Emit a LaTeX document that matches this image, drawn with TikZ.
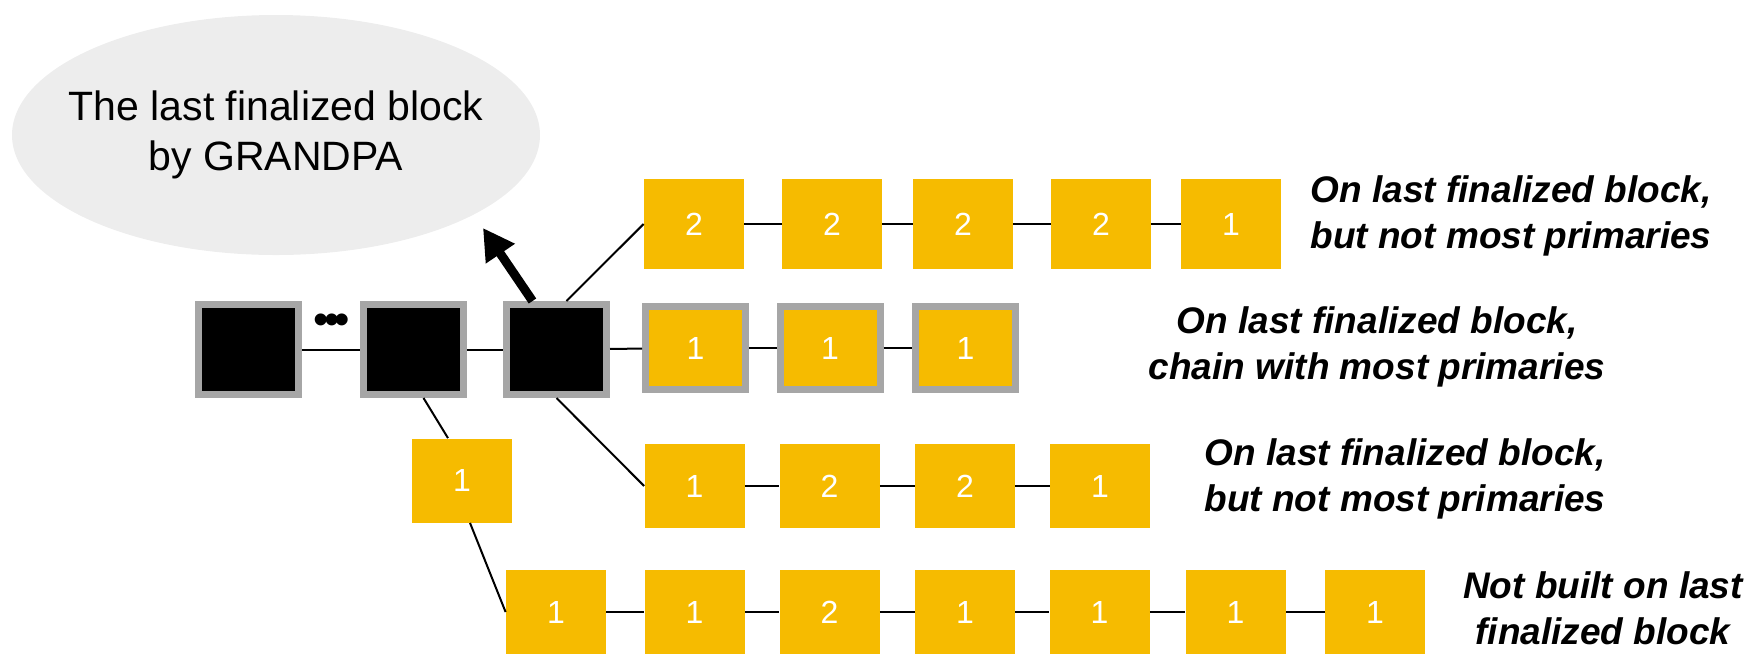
\documentclass[tikz,border=0pt]{standalone}
\usepackage{fontspec}
\setmainfont{Liberation Sans}
\usetikzlibrary{arrows.meta,shapes.geometric}

\definecolor{giallo}{RGB}{246,187,0}
\definecolor{grigio}{RGB}{166,166,166}
\definecolor{nuvola}{RGB}{237,237,237}

\tikzset{
    blocco/.style={fill=giallo, text=white, minimum width=50pt, minimum height=42pt,
        inner sep=0pt, font=\fontsize{16pt}{18pt}\selectfont},
    blocco alto/.style={blocco, minimum height=45pt},
    scelto/.style={blocco, draw=grigio, line width=3.5pt, minimum height=41.5pt},
    finale/.style={fill=black, draw=grigio, line width=3.5pt, minimum width=50pt,
        minimum height=45pt, inner sep=0pt},
    nota/.style={font=\fontsize{18.5pt}{23pt}\selectfont\bfseries\itshape,
        align=center, inner sep=0pt},
    legame/.style={line width=1pt},
}

\begin{document}
\begin{tikzpicture}[x=0.5pt, y=-0.5pt]
    \useasboundingbox (0,0) rectangle (1757,655);

    % Nuvola con il testo
    \node[ellipse, fill=nuvola, minimum width=264pt, minimum height=120pt,
        inner xsep=-12pt, inner ysep=0pt, align=center,
        font=\fontsize{20.5pt}{25pt}\selectfont] (nuvola) at (276,135)
        {The last finalized block\\by GRANDPA};

    % Blocchi finalizzati
    \foreach \x/\nome in {248.5/fin1, 413.5/fin2, 556.5/fin3} {
        \node[finale] (\nome) at (\x,349.5) {};
    }
    \node[font=\fontsize{22pt}{24pt}\selectfont, inner sep=0pt] (puntini) at (332,324)
        {•\kern-2.5pt•\kern-2.5pt•};

    % Catena in alto
    \foreach \x/\n [count=\i] in {694/2, 832/2, 963/2, 1101/2, 1231/1} {
        \node[blocco alto] (alto-\i) at (\x,224) {\n};
    }

    % Catena scelta
    \foreach \x/\n [count=\i] in {695.5/1, 830/1, 965.5/1} {
        \node[scelto] (scelta-\i) at (\x,348) {\n};
    }

    % Catena in basso
    \foreach \x/\n [count=\i] in {694.5/1, 829.5/2, 965/2, 1100/1} {
        \node[blocco] (basso-\i) at (\x,486) {\n};
    }

    % Ramo fuori dal blocco finalizzato
    \node[blocco] (ramo) at (462,480.5) {1};
    \foreach \x/\n [count=\i] in {556/1, 694.5/1, 829.5/2, 965/1, 1099.5/1, 1235.5/1, 1375/1} {
        \node[blocco] (fuori-\i) at (\x,612) {\n};
    }

    % Linee tra i blocchi
    \draw[legame] (fin1) -- (fin2);
    \draw[legame] (fin2) -- (fin3);
    \draw[legame] (fin3) -- (scelta-1);
    \draw[legame] ([xshift=5pt]fin3.north) -- (alto-1.west);
    \draw[legame] (fin3.south) -- (basso-1.west);
    \draw[legame] ([xshift=5pt]fin2.south) -- ([xshift=-7pt]ramo.north);
    \draw[legame] ([xshift=4pt]ramo.south) -- (fuori-1.west);
    \foreach \i/\j in {1/2, 2/3, 3/4, 4/5} {
        \draw[legame] (alto-\i) -- (alto-\j);
    }
    \foreach \i/\j in {1/2, 2/3} {
        \draw[legame] (scelta-\i) -- (scelta-\j);
    }
    \foreach \i/\j in {1/2, 2/3, 3/4} {
        \draw[legame] (basso-\i) -- (basso-\j);
    }
    \foreach \i/\j in {1/2, 2/3, 3/4, 4/5, 5/6, 6/7} {
        \draw[legame] (fuori-\i) -- (fuori-\j);
    }

    % Freccia verso la nuvola
    \coordinate (punta) at (483,228);
    \draw[line width=4.5pt, -{Triangle[length=15.5pt,width=16.5pt]}]
        ([xshift=-12pt]fin3.north) -- (punta);

    % Didascalie
    \node[nota] (nota-alto) at (1511,215.5) {On last finalized block,\\but not most primaries};
    \node[nota] (nota-scelta) at (1377,347) {On last finalized block,\\chain with most primaries};
    \node[nota] (nota-basso) at (1405,479) {On last finalized block,\\but not most primaries};
    \node[nota] (nota-fuori) at (1603,608) {Not built on last\\finalized block};
\end{tikzpicture}
\end{document}
